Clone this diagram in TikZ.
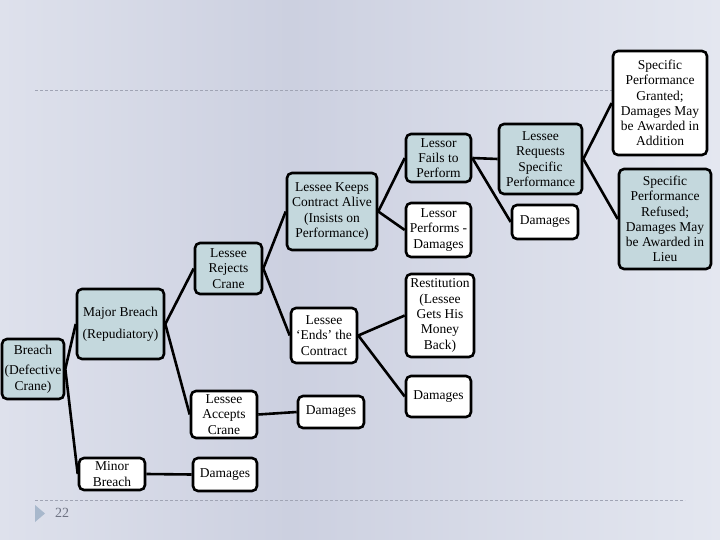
\documentclass[tikz,border=0pt]{standalone}
\usepackage{fontspec}
\setmainfont{Liberation Serif}
\usepackage{xcolor}
\definecolor{boxblue}{RGB}{196,216,221}
\definecolor{bgleft}{RGB}{222,225,236}
\definecolor{bgmid}{RGB}{204,208,224}
\definecolor{bgright}{RGB}{228,231,240}
\definecolor{rulegray}{RGB}{160,164,180}
\definecolor{trigray}{RGB}{168,184,204}
\definecolor{numgray}{RGB}{110,114,130}
\tikzset{
	box/.style={draw=black, line width=2.6pt, rounded corners=5pt, fill=white, align=center, inner sep=1pt, font=\fontsize{13.5}{15.3}\selectfont},
	bluebox/.style={box, fill=boxblue},
	link/.style={line width=2.6pt},
	rule/.style={draw=rulegray, line width=0.6pt, dash pattern=on 3pt off 2pt}
}
\newcommand{\branch}[2] % from node, to node
{
	\draw[link] (#1.east) -- (#2.west);
}
\begin{document}
\begin{tikzpicture}[x=1pt, y=-1pt]
	% slide: 720 x 540
	\useasboundingbox (0,0) rectangle (720,540);
	\shade[left color=bgleft, right color=bgmid] (0,0) rectangle (290,540);
	\shade[left color=bgmid, right color=bgright] (290,0) rectangle (720,540);
	\draw[rule] (35,90) -- (615,90);
	\draw[rule] (35,500) -- (685,500);
	\fill[trigray] (35,505) -- (45,513.5) -- (35,522) -- cycle;
	\node[text=numgray, font=\fontsize{14}{16}\selectfont] (pagenum) at (62,513) {22};
	
	% first level
	\node[bluebox, minimum width=62, minimum height=60] (breach) at (33,369) {Breach\\[5pt](Defective\\Crane)};
	\node[bluebox, minimum width=87, minimum height=70] (major) at (120.5,324) {Major Breach\\[7pt](Repudiatory)};
	\node[box, minimum width=66, minimum height=32] (minor) at (112,474) {Minor\\Breach};
	
	% second level
	\node[bluebox, minimum width=67, minimum height=51] (rejects) at (228.5,268.5) {Lessee\\Rejects\\Crane};
	\node[box, minimum width=66, minimum height=47] (accepts) at (224,414.5) {Lessee\\Accepts\\Crane};
	\node[box, minimum width=64, minimum height=33] (dmgminor) at (225,474.5) {Damages};
	
	% third level
	\node[bluebox, minimum width=90, minimum height=77] (keeps) at (332,211.5) {Lessee Keeps\\Contract Alive\\(Insists on\\Performance)};
	\node[box, minimum width=66, minimum height=55] (ends) at (324,335.5) {Lessee\\‘Ends’ the\\Contract};
	\node[box, minimum width=66, minimum height=32] (dmgaccept) at (331,412) {Damages};
	
	% fourth level
	\node[bluebox, minimum width=65, minimum height=48] (fails) at (438.5,158) {Lessor\\Fails to\\Perform};
	\node[box, minimum width=65, minimum height=54] (performs) at (438.5,230) {Lessor\\Performs -\\Damages};
	\node[box, minimum width=68, minimum height=83] (restitution) at (440,315.5) {Restitution\\(Lessee\\Gets His\\Money\\Back)};
	\node[box, minimum width=65, minimum height=41] (dmgends) at (438.5,396.5) {Damages};
	
	% fifth level
	\node[bluebox, minimum width=83, minimum height=70] (requests) at (540.5,159) {Lessee\\Requests\\Specific\\Performance};
	\node[box, minimum width=66, minimum height=34] (dmgfails) at (545,222) {Damages};
	
	% sixth level
	\node[box, minimum width=94, minimum height=104] (granted) at (660,103) {Specific\\Performance\\Granted;\\Damages May\\be Awarded in\\Addition};
	\node[bluebox, minimum width=92, minimum height=100] (refused) at (665,219) {Specific\\Performance\\Refused;\\Damages May\\be Awarded in\\Lieu};
	
	% branches
	\branch{breach}{major};
	\branch{breach}{minor};
	\branch{major}{rejects};
	\branch{major}{accepts};
	\branch{minor}{dmgminor};
	\branch{rejects}{keeps};
	\branch{rejects}{ends};
	\branch{accepts}{dmgaccept};
	\branch{keeps}{fails};
	\branch{keeps}{performs};
	\branch{ends}{restitution};
	\branch{ends}{dmgends};
	\branch{fails}{requests};
	\branch{fails}{dmgfails};
	\branch{requests}{granted};
	\branch{requests}{refused};
\end{tikzpicture}
\end{document}
